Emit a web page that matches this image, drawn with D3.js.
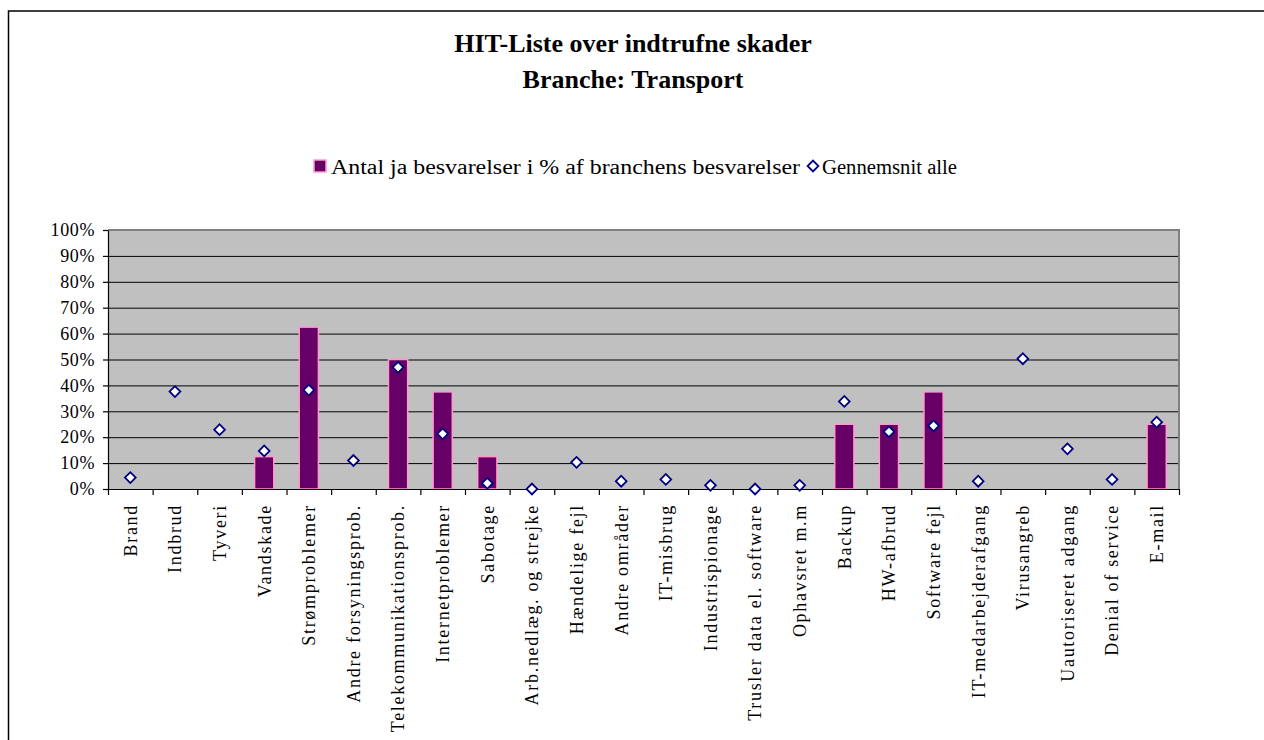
<!DOCTYPE html>
<html>
<head>
<meta charset="utf-8">
<script src="https://cdn.jsdelivr.net/npm/d3@7"></script>
<style>
  body { margin: 0; background: #fff; }
  text { font-family: "Liberation Serif", "Times New Roman", serif; }
</style>
</head>
<body>
<div id="chart"></div>
<script>
// Data

var categories = ["Brand", "Indbrud", "Tyveri", "Vandskade", "Strømproblemer", "Andre forsyningsprob.",
  "Telekommunikationsprob.", "Internetproblemer", "Sabotage", "Arb.nedlæg. og strejke", "Hændelige fejl",
  "Andre områder", "IT-misbrug", "Industrispionage", "Trusler data el. software", "Ophavsret m.m",
  "Backup", "HW-afbrud", "Software fejl", "IT-medarbejderafgang", "Virusangreb", "Uautoriseret adgang",
  "Denial of service", "E-mail"];

// Antal ja besvarelser i % af branchens besvarelser
var branchValues = [0, 0, 0, 12.5, 62.5, 0, 50, 37.5, 12.5, 0, 0, 0, 0, 0, 0, 0, 25, 25, 37.5, 0, 0, 0, 0, 25];

// Gennemsnit alle
var averageValues = [4.4, 37.6, 22.9, 14.7, 38.2, 11, 47, 21.3, 2.2, 0, 10.3, 3, 3.7, 1.4, 0, 1.4,
  33.8, 22.1, 24.4, 3, 50.3, 15.5, 3.7, 25.8];

var yTicks = [0, 10, 20, 30, 40, 50, 60, 70, 80, 90, 100];

var seriesNames = ["Antal ja besvarelser  i % af branchens besvarelser", "Gennemsnit alle"];

var margin = {top: 230, right: 85, bottom: 251, left: 108};
var width = 1264 - margin.left - margin.right;
var height = 740 - margin.top - margin.bottom;

var svg = d3.select("#chart").append("svg")
    .attr("width", 1264)
    .attr("height", 740);

// chart border (runs off the page right and bottom)
svg.append("rect")
    .attr("x", 8.5)
    .attr("y", 11)
    .attr("width", 1300)
    .attr("height", 800)
    .attr("fill", "none")
    .attr("stroke", "#000")
    .attr("stroke-width", 1.5);

// Titles
svg.append("text")
    .attr("x", 633)
    .attr("y", 52)
    .attr("text-anchor", "middle")
    .style("font-size", "26px")
    .style("font-weight", "bold")
    .text("HIT-Liste over indtrufne skader");

svg.append("text")
    .attr("x", 633)
    .attr("y", 88)
    .attr("text-anchor", "middle")
    .style("font-size", "26px")
    .style("font-weight", "bold")
    .text("Branche: Transport");

var x = d3.scaleBand()
    .domain(categories)
    .range([0, width]);

var tickX = d3.scaleLinear()
    .domain([0, categories.length])
    .range([0, width]);

var y = d3.scaleLinear()
    .domain([0, 100])
    .range([height, 0]);

var focus = svg.append("g")
    .attr("transform", "translate(" + margin.left + "," + margin.top + ")");

// plot background
focus.append("rect")
    .attr("width", width)
    .attr("height", height)
    .attr("fill", "#c0c0c0");

// grid lines
focus.append("g").selectAll(".gridLine")
    .data(yTicks.slice(1, -1))
    .enter().append("line")
    .attr("class", "gridLine")
    .attr("x1", 0)
    .attr("x2", width)
    .attr("y1", function(d) { return y(d) + 0.5; })
    .attr("y2", function(d) { return y(d) + 0.5; })
    .attr("stroke", "#000")
    .attr("stroke-width", 1);

// plot border top + right
focus.append("path")
    .attr("d", "M0," + y(100) + "H" + width + "V" + height)
    .attr("fill", "none")
    .attr("stroke", "#808080")
    .attr("stroke-width", 2);

// bars
var barWidth = x.bandwidth() * 0.43;

focus.append("g").selectAll(".bar")
    .data(categories.map(function(c, i) { return {cat: c, value: branchValues[i]}; })
      .filter(function(d) { return d.value > 0; }))
    .enter().append("rect")
    .attr("class", "bar")
    .attr("x", function(d) { return x(d.cat) + (x.bandwidth() - barWidth) / 2; })
    .attr("y", function(d) { return y(d.value); })
    .attr("width", barWidth)
    .attr("height", function(d) { return height - y(d.value); })
    .attr("fill", "#660066")
    .attr("stroke", "#ff99cc")
    .attr("stroke-width", 1.5);

// y axis
var yAxis = d3.axisLeft(y)
    .tickValues(yTicks)
    .tickSize(5)
    .tickSizeOuter(0)
    .tickPadding(8)
    .tickFormat(function(d) { return d + "%"; });

var yAxisG = focus.append("g")
    .attr("class", "axis y-axis")
    .call(yAxis);

yAxisG.selectAll("text")
    .style("font-size", "18px")
    .style("letter-spacing", "0.6px")
    .attr("fill", "#000");
yAxisG.selectAll("line, path").attr("stroke", "#000").attr("stroke-width", 1.2);

// x axis ticks at category boundaries
var xTickAxis = d3.axisBottom(tickX)
    .tickValues(d3.range(categories.length + 1))
    .tickSize(6)
    .tickSizeOuter(0)
    .tickFormat("");

var xTickG = focus.append("g")
    .attr("transform", "translate(0," + height + ")")
    .call(xTickAxis);
xTickG.selectAll("line, path").attr("stroke", "#000").attr("stroke-width", 1.2);

// x axis labels
var xAxis = d3.axisBottom(x).tickSize(0);

var xAxisG = focus.append("g")
    .attr("class", "axis x-axis")
    .attr("transform", "translate(0," + height + ")")
    .call(xAxis);
xAxisG.select(".domain").remove();

xAxisG.selectAll("text")
    .attr("transform", "rotate(-90)")
    .attr("x", -15)
    .attr("y", 0)
    .attr("dy", "0.35em")
    .attr("text-anchor", "end")
    .attr("fill", "#000")
    .style("font-size", "18px")
    .style("letter-spacing", "1.7px");

// average markers
var diamond = d3.symbol().type(d3.symbolSquare).size(58);

focus.append("g").selectAll(".avg")
    .data(categories.map(function(c, i) { return {cat: c, value: averageValues[i]}; }))
    .enter().append("path")
    .attr("class", "avg")
    .attr("d", diamond)
    .attr("transform", function(d) {
      return "translate(" + (x(d.cat) + x.bandwidth() / 2) + "," + y(d.value) + ") rotate(45)";
    })
    .attr("fill", "#fff")
    .attr("stroke", "#000080")
    .attr("stroke-width", 1.8);

// Legend
var legend = svg.append("g");

legend.append("rect")
    .attr("x", 314)
    .attr("y", 160)
    .attr("width", 12)
    .attr("height", 12)
    .attr("fill", "#660066")
    .attr("stroke", "#ff99cc")
    .attr("stroke-width", 1.5);

legend.append("text")
    .attr("x", 331)
    .attr("y", 174)
    .style("font-size", "20px")
    .attr("textLength", 469)
    .attr("lengthAdjust", "spacingAndGlyphs")
    .text(seriesNames[0]);

legend.append("path")
    .attr("d", diamond)
    .attr("transform", "translate(813,166) rotate(45)")
    .attr("fill", "#fff")
    .attr("stroke", "#000080")
    .attr("stroke-width", 1.8);

legend.append("text")
    .attr("x", 822)
    .attr("y", 174)
    .style("font-size", "20px")
    .attr("textLength", 135)
    .attr("lengthAdjust", "spacingAndGlyphs")
    .text(seriesNames[1]);
</script>
</body>
</html>
